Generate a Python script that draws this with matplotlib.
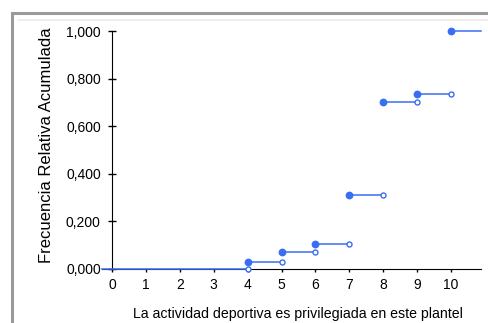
import matplotlib
matplotlib.use('Agg')
import matplotlib.pyplot as plt
from matplotlib.lines import Line2D
from matplotlib.ticker import FuncFormatter

# datos de la ojiva (frecuencia relativa acumulada)
x_vals = [4, 5, 6, 7, 8, 9, 10]
cum_freq = [0.030, 0.070, 0.105, 0.310, 0.700, 0.735, 1.000]
x_ticks = list(range(0, 11))
y_ticks = [0.0, 0.2, 0.4, 0.6, 0.8, 1.0]
x_label = 'La actividad deportiva es privilegiada en este plantel'
y_label = 'Frecuencia Relativa Acumulada'

plt.rcParams['font.family'] = ['Liberation Sans', 'DejaVu Sans']
blue = '#3a6ef2'

fig = plt.figure(figsize=(4.88, 3.23), dpi=100)
ax = fig.add_axes([0.2086, 0.1672, 0.777, 0.7368])

xmin, xmax = -0.3, 10.88
ax.set_xlim(xmin, xmax)
ax.set_ylim(0, 1)

# tramo inicial en cero
ax.plot([xmin, x_vals[0]], [0, 0], color=blue, lw=1.1, zorder=3, clip_on=False)
ax.plot(x_vals[0], 0, 'o', ms=3.6, mfc='white', mec=blue, mew=1.0, zorder=4, clip_on=False)

for i, (x, y) in enumerate(zip(x_vals, cum_freq)):
    x_end = x_vals[i + 1] if i + 1 < len(x_vals) else xmax
    ax.plot([x, x_end], [y, y], color=blue, lw=1.1, zorder=3, clip_on=False)
    ax.plot(x, y, 'o', ms=4.6, color=blue, zorder=4, clip_on=False)
    if i + 1 < len(x_vals):
        ax.plot(x_end, y, 'o', ms=3.6, mfc='white', mec=blue, mew=1.0, zorder=4, clip_on=False)

ax.spines['top'].set_visible(False)
ax.spines['right'].set_visible(False)
ax.spines['left'].set_position(('data', 0))
ax.spines['left'].set_color('black')
ax.spines['bottom'].set_color('black')

ax.set_xticks(x_ticks)
ax.set_yticks(y_ticks)
ax.yaxis.set_major_formatter(FuncFormatter(lambda v, p: f'{v:.3f}'.replace('.', ',')))
ax.tick_params(axis='y', direction='inout', length=6, width=1, labelsize=10, pad=5)
ax.tick_params(axis='x', direction='out', length=2.5, width=1, labelsize=10, pad=4)

ax.set_xlabel(x_label, fontsize=10.2)
ax.xaxis.set_label_coords(0.517, -0.16)
ax.set_ylabel(y_label, fontsize=12)
ax.yaxis.set_label_coords(-0.127, 0.519)

# marco gris del visor
fig.add_artist(Line2D([12 / 488, 12 / 488], [0, 1 - 13 / 323], color='#9a9a9a', lw=2.2))
fig.add_artist(Line2D([12 / 488, 1], [1 - 13 / 323, 1 - 13 / 323], color='#9a9a9a', lw=2.2))
fig.add_artist(Line2D([19 / 488, 1], [1 - 19.5 / 323, 1 - 19.5 / 323], color='#eeeeee', lw=1.5))

fig.savefig('out.png', dpi=100)
